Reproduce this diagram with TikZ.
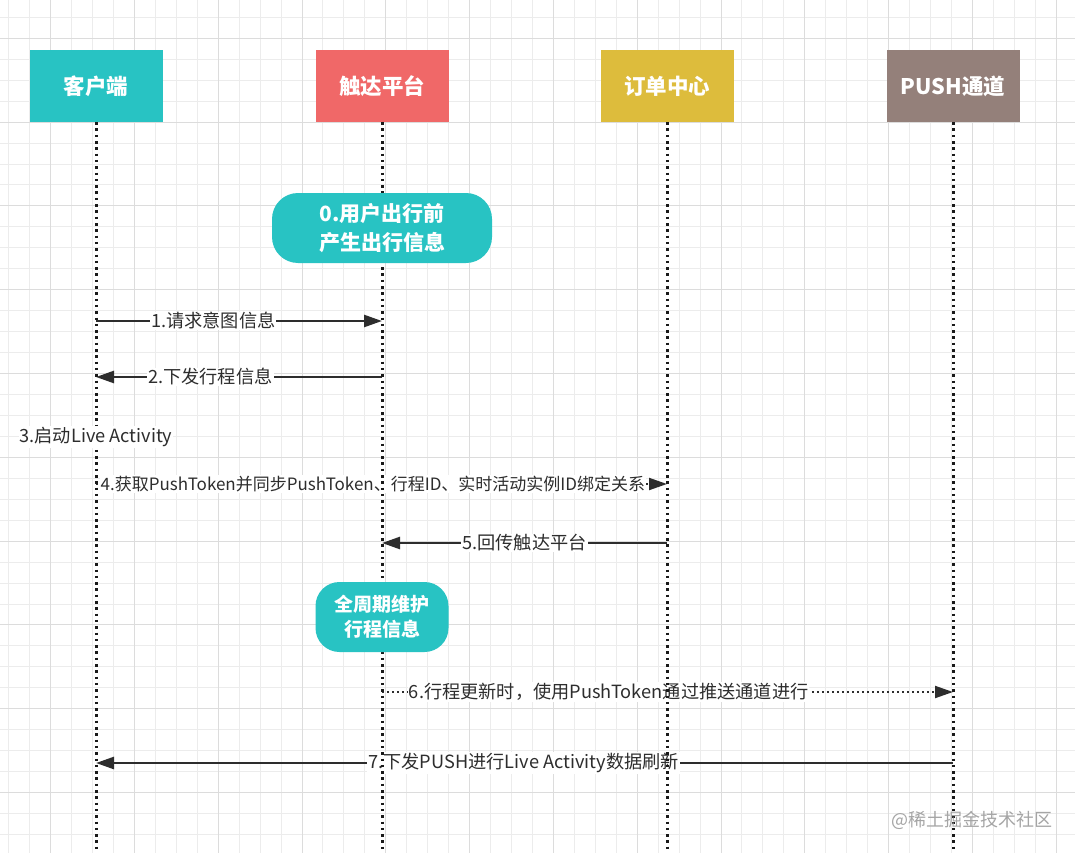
\documentclass[tikz,border=0pt]{standalone}
\usepackage{fontspec}
\setmainfont{Noto Sans CJK SC}
\usetikzlibrary{arrows.meta}
\definecolor{dteal}{RGB}{40,195,195}
\definecolor{dred}{RGB}{240,104,104}
\definecolor{dgold}{RGB}{221,188,60}
\definecolor{dmauve}{RGB}{148,128,122}
\definecolor{dline}{RGB}{45,45,45}
\definecolor{gminor}{RGB}{236,236,236}
\definecolor{gmajor}{RGB}{220,220,220}
\definecolor{wmark}{RGB}{165,165,165}

\begin{document}
\begin{tikzpicture}[x=1pt,y=-1pt,
    head/.style={minimum width=133pt,minimum height=72pt,inner sep=0pt,text=white,
        font=\fontsize{21.5}{26}\selectfont\bfseries},
    note/.style={fill=dteal,rounded corners=26pt,inner sep=0pt,text=white,align=center},
    msg/.style={dline,line width=2.5pt,-{Triangle[length=18pt,width=12pt]}},
    dotmsg/.style={dline,line width=2pt,dash pattern=on 2pt off 3pt,-{Triangle[length=18pt,width=12pt,sep=0pt]}},
    msgtext/.style={fill=white,inner sep=1pt,text=dline,font=\fontsize{18.2}{22}\selectfont},
    life/.style={black!90,line width=3pt,dash pattern=on 2.5pt off 3.8pt}]
\useasboundingbox (0,0) rectangle (1075,853);
\fill[white] (0,0) rectangle (1075,853);
% grid
\foreach \k in {0,...,51} {
    \draw[gminor,line width=0.8pt] (8.6+20.95*\k,0) -- (8.6+20.95*\k,853);
}
\foreach \k in {0,...,40} {
    \draw[gminor,line width=0.8pt] (0,17.3+20.95*\k) -- (1075,17.3+20.95*\k);
}
\foreach \k in {0,...,12} {
    \draw[gmajor,line width=0.9pt] (50.7+83.8*\k,0) -- (50.7+83.8*\k,853);
}
\foreach \k in {0,...,9} {
    \draw[gmajor,line width=0.9pt] (0,38.3+83.8*\k) -- (1075,38.3+83.8*\k);
}

% participants
\node[head,fill=dteal] (kehu) at (96,86) {客户端};
\node[head,fill=dred] (chuda) at (382,86) {触达平台};
\node[head,fill=dgold] (dingdan) at (667,86) {订单中心};
\node[head,fill=dmauve] (push) at (953,86) {PUSH通道};
\coordinate (kehu-end) at (96,853);
\coordinate (chuda-end) at (382,853);
\coordinate (dingdan-end) at (667,853);
\coordinate (push-end) at (953,853);

% message end points
\coordinate (m1a) at (96,321);   \coordinate (m1b) at (382,321);
\coordinate (m2a) at (382,377);  \coordinate (m2b) at (96,377);
\coordinate (m4a) at (96,484);   \coordinate (m4b) at (667,484);
\coordinate (m5a) at (667,543);  \coordinate (m5b) at (382,543);
\coordinate (m6a) at (382,692);  \coordinate (m6b) at (953,692);
\coordinate (m7a) at (953,763);  \coordinate (m7b) at (96,763);

% messages
\draw[msg] (m1a) -- node[msgtext,pos=0.41] (t1) {1.请求意图信息} (m1b);
\draw[msg] (m2a) -- node[msgtext,pos=0.6] (t2) {2.下发行程信息} (m2b);
\draw[dotmsg] (m4a) -- node[msgtext,pos=0.485,font=\fontsize{17}{20}\selectfont] (t4)
    {4.获取PushToken并同步PushToken、行程ID、实时活动实例ID绑定关系} (m4b);
\draw[msg] (m5a) -- node[msgtext,pos=0.5] (t5) {5.回传触达平台} (m5b);
\draw[dotmsg] (m6a) -- node[msgtext,pos=0.397] (t6) {6.行程更新时，使用PushToken通过推送通道进行} (m6b);
\draw[msg] (m7a) -- node[msgtext,pos=0.501] (t7) {7.下发PUSH进行Live Activity数据刷新} (m7b);

% lifelines
\draw[life] (kehu.south) -- (kehu-end);
\draw[life] (chuda.south) -- (chuda-end);
\draw[life] (dingdan.south) -- (dingdan-end);
\draw[life] (push.south) -- (push-end);

\node[msgtext] (t3) at (96,437) {3.启动Live Activity};

% notes
\node[note,minimum width=220pt,minimum height=70pt,font=\fontsize{21}{29}\selectfont\bfseries] (pre)
    at (382,228) {0.用户出行前\\产生出行信息};
\node[note,minimum width=133pt,minimum height=70pt,rounded corners=24pt,font=\fontsize{19}{25}\selectfont\bfseries] (keep)
    at (382,617) {全周期维护\\行程信息};

\node[text=wmark,font=\fontsize{18}{21}\selectfont] (mark) at (971.5,820) {@稀土掘金技术社区};
\end{tikzpicture}
\end{document}
